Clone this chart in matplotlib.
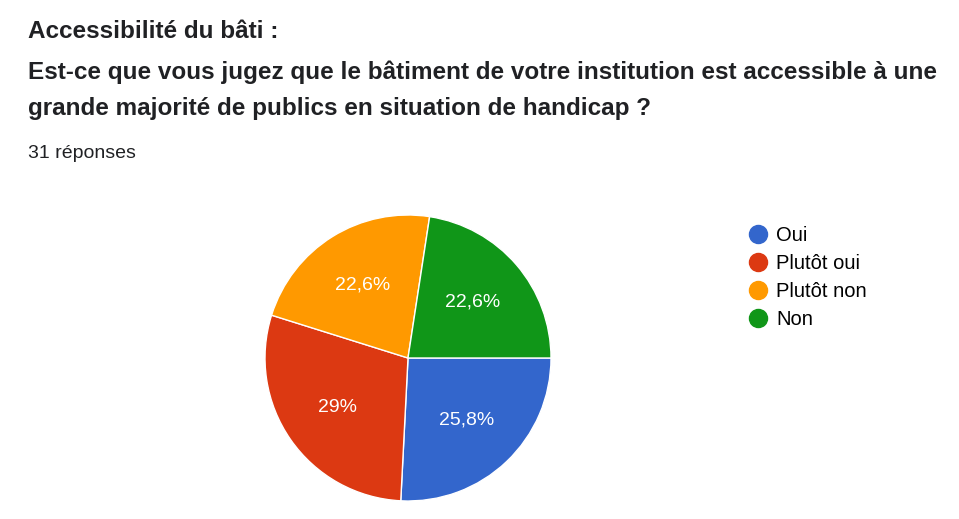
import matplotlib
matplotlib.use("Agg")
import matplotlib.pyplot as plt
from matplotlib.lines import Line2D
import numpy as np

plt.rcParams['font.family'] = ['Liberation Sans', 'DejaVu Sans']

labels = ["Oui", "Plutôt oui", "Plutôt non", "Non"]
counts = [8, 9, 7, 7]
pct_labels = ["25,8%", "29%", "22,6%", "22,6%"]
colors = ["#3366cc", "#dc3912", "#ff9900", "#109618"]

fig = plt.figure(figsize=(9.59, 5.19), dpi=100)
tk = dict(fontsize=17.5, fontweight='bold', va='center', color='#202124')
fig.text(28/959, 1-32/519, "Accessibilité du bâti :", **tk)
fig.text(28/959, 1-72/519, "Est-ce que vous jugez que le bâtiment de votre institution est accessible à une", **tk)
fig.text(28/959, 1-108/519, "grande majorité de publics en situation de handicap ?", **tk)
fig.text(28/959, 1-153/519, "31 réponses", fontsize=14, va='center', color='#202124')

size = 286
ax = fig.add_axes([(408-size/2)/959, 1-(358+size/2)/519, size/959, size/519])
wedges, _ = ax.pie(counts, colors=colors, startangle=0, counterclock=False,
                   wedgeprops=dict(edgecolor='white', linewidth=1))
for w, t in zip(wedges, pct_labels):
    mid = np.deg2rad((w.theta1 + w.theta2) / 2)
    ax.text(0.6*np.cos(mid), 0.6*np.sin(mid), t, ha='center', va='center',
            color='white', fontsize=14)
ax.set_xlim(-1, 1)
ax.set_ylim(-1, 1)
ax.set_aspect('equal')

handles = [Line2D([0], [0], marker='o', linestyle='', markersize=13,
                  markerfacecolor=c, markeredgecolor=c) for c in colors]
fig.legend(handles, labels, loc='upper left', bbox_to_anchor=(728/959, 1-208/519),
           frameon=False, fontsize=14.5, handletextpad=0.3, labelspacing=0.45,
           handlelength=1.2)
fig.savefig("out.png", dpi=100, facecolor='white')
